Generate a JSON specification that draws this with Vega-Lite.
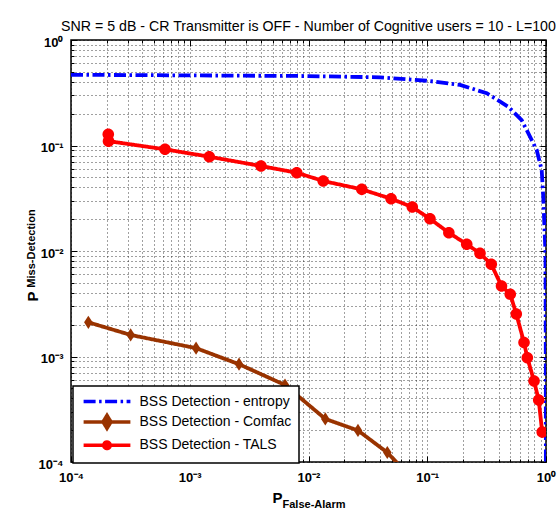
{
  "$schema": "https://vega.github.io/schema/vega-lite/v6.json",
  "width": 475,
  "height": 422,
  "autosize": {"type": "none"},
  "padding": {"left": 71, "top": 40, "right": 12, "bottom": 51},
  "background": "white",
  "title": {
    "text": "SNR = 5 dB - CR Transmitter is OFF - Number of Cognitive users = 10 - L=100",
    "font": "Liberation Sans",
    "fontSize": 14.2,
    "fontWeight": "normal",
    "color": "black",
    "anchor": "middle",
    "frame": "group",
    "baseline": "alphabetic",
    "offset": -9
  },
  "data": {
    "values": [
      {"s": "BSS Detection - entropy", "fa": 0.0001, "md": 0.468},
      {"s": "BSS Detection - entropy", "fa": 0.001, "md": 0.462},
      {"s": "BSS Detection - entropy", "fa": 0.0085, "md": 0.456},
      {"s": "BSS Detection - entropy", "fa": 0.04, "md": 0.443},
      {"s": "BSS Detection - entropy", "fa": 0.099, "md": 0.411},
      {"s": "BSS Detection - entropy", "fa": 0.189, "md": 0.375},
      {"s": "BSS Detection - entropy", "fa": 0.317, "md": 0.313},
      {"s": "BSS Detection - entropy", "fa": 0.481, "md": 0.233},
      {"s": "BSS Detection - entropy", "fa": 0.624, "md": 0.174},
      {"s": "BSS Detection - entropy", "fa": 0.688, "md": 0.14},
      {"s": "BSS Detection - entropy", "fa": 0.835, "md": 0.0906},
      {"s": "BSS Detection - entropy", "fa": 0.92, "md": 0.0586},
      {"s": "BSS Detection - entropy", "fa": 0.948, "md": 0.0327},
      {"s": "BSS Detection - entropy", "fa": 0.99, "md": 0.0096},
      {"s": "BSS Detection - entropy", "fa": 0.996, "md": 0.001},
      {"s": "BSS Detection - entropy", "fa": 0.9985, "md": 0.00005},
      {"s": "BSS Detection - Comfac", "fa": 0.00014, "md": 0.00211},
      {"s": "BSS Detection - Comfac", "fa": 0.000318, "md": 0.0016},
      {"s": "BSS Detection - Comfac", "fa": 0.00113, "md": 0.0012},
      {"s": "BSS Detection - Comfac", "fa": 0.0026, "md": 0.000845},
      {"s": "BSS Detection - Comfac", "fa": 0.00634, "md": 0.000537},
      {"s": "BSS Detection - Comfac", "fa": 0.01385, "md": 0.000256},
      {"s": "BSS Detection - Comfac", "fa": 0.0261, "md": 0.000199},
      {"s": "BSS Detection - Comfac", "fa": 0.0461, "md": 0.000123},
      {"s": "BSS Detection - Comfac", "fa": 0.079, "md": 0.000065},
      {"s": "BSS Detection - TALS", "fa": 0.000206, "md": 0.128},
      {"s": "BSS Detection - TALS", "fa": 0.000207, "md": 0.11},
      {"s": "BSS Detection - TALS", "fa": 0.000619, "md": 0.092},
      {"s": "BSS Detection - TALS", "fa": 0.00146, "md": 0.0783},
      {"s": "BSS Detection - TALS", "fa": 0.00398, "md": 0.0639},
      {"s": "BSS Detection - TALS", "fa": 0.00796, "md": 0.0552},
      {"s": "BSS Detection - TALS", "fa": 0.0133, "md": 0.0461},
      {"s": "BSS Detection - TALS", "fa": 0.0281, "md": 0.0384},
      {"s": "BSS Detection - TALS", "fa": 0.0496, "md": 0.0313},
      {"s": "BSS Detection - TALS", "fa": 0.0748, "md": 0.0261},
      {"s": "BSS Detection - TALS", "fa": 0.1054, "md": 0.0202},
      {"s": "BSS Detection - TALS", "fa": 0.152, "md": 0.0149},
      {"s": "BSS Detection - TALS", "fa": 0.215, "md": 0.0116},
      {"s": "BSS Detection - TALS", "fa": 0.278, "md": 0.0095},
      {"s": "BSS Detection - TALS", "fa": 0.346, "md": 0.00748},
      {"s": "BSS Detection - TALS", "fa": 0.422, "md": 0.00466},
      {"s": "BSS Detection - TALS", "fa": 0.5, "md": 0.00389},
      {"s": "BSS Detection - TALS", "fa": 0.562, "md": 0.00253},
      {"s": "BSS Detection - TALS", "fa": 0.653, "md": 0.00136},
      {"s": "BSS Detection - TALS", "fa": 0.696, "md": 0.000975},
      {"s": "BSS Detection - TALS", "fa": 0.793, "md": 0.000586},
      {"s": "BSS Detection - TALS", "fa": 0.868, "md": 0.000387},
      {"s": "BSS Detection - TALS", "fa": 0.929, "md": 0.000192}
    ]
  },
  "layer": [
    {
      "mark": {"type": "line", "clip": true, "strokeWidth": 3.8},
      "encoding": {
        "x": {
          "field": "fa", "type": "quantitative",
          "scale": {"type": "log", "domain": [0.0001, 1], "nice": false},
          "axis": {
            "orient": "bottom",
            "values": [0.0001,0.0002,0.0003,0.0004,0.0005,0.0006,0.0007,0.0008,0.0009,0.001,0.002,0.003,0.004,0.005,0.006,0.007,0.008,0.009,0.01,0.02,0.03,0.04,0.05,0.06,0.07,0.08,0.09,0.1,0.2,0.3,0.4,0.5,0.6,0.7,0.8,0.9,1],
            "labelExpr": "datum.value==0.0001?'10⁻⁴':datum.value==0.001?'10⁻³':datum.value==0.01?'10⁻²':datum.value==0.1?'10⁻¹':datum.value==1?'10⁰':''",
            "ticks": false,
            "grid": true,
            "labelPadding": 9,
            "labelBaseline": "top",
            "title": "P",
            "titleFont": "Liberation Sans",
            "titleFontSize": 15,
            "titleFontWeight": "bold",
            "titleX": 206,
            "titleY": 35,
            "titleAlign": "center",
            "titleBaseline": "middle"
          }
        },
        "y": {
          "field": "md", "type": "quantitative",
          "scale": {"type": "log", "domain": [0.0001, 1], "nice": false},
          "axis": {
            "orient": "left",
            "values": [0.0001,0.0002,0.0003,0.0004,0.0005,0.0006,0.0007,0.0008,0.0009,0.001,0.002,0.003,0.004,0.005,0.006,0.007,0.008,0.009,0.01,0.02,0.03,0.04,0.05,0.06,0.07,0.08,0.09,0.1,0.2,0.3,0.4,0.5,0.6,0.7,0.8,0.9,1],
            "labelExpr": "datum.value==0.0001?'10⁻⁴':datum.value==0.001?'10⁻³':datum.value==0.01?'10⁻²':datum.value==0.1?'10⁻¹':datum.value==1?'10⁰':''",
            "ticks": false,
            "grid": true,
            "labelPadding": 8,
            "labelOffset": 2,
            "title": "P",
            "titleFont": "Liberation Sans",
            "titleFontSize": 15,
            "titleFontWeight": "bold",
            "titleAngle": -90,
            "titleX": -39,
            "titleY": 256,
            "titleAlign": "center",
            "titleBaseline": "middle"
          }
        },
        "color": {
          "field": "s", "type": "nominal",
          "scale": {
            "domain": ["BSS Detection - entropy", "BSS Detection - Comfac", "BSS Detection - TALS"],
            "range": ["#0000ff", "#993300", "#ff0000"]
          },
          "legend": {
            "orient": "none",
            "legendX": 2,
            "legendY": 346,
            "title": null,
            "padding": 7,
            "rowPadding": -0.6,
            "fillColor": "white",
            "strokeColor": "black",
            "symbolSize": 169,
            "symbolStrokeWidth": 3.5,
            "symbolOffset": 18.5,
            "labelOffset": 24,
            "labelFont": "Liberation Sans",
            "labelFontSize": 14,
            "labelColor": "black",
            "encode": {
              "symbols": {
                "update": {
                  "shape": {"signal": "datum.value=='BSS Detection - entropy'?'M-3.6,0H3.6':datum.value=='BSS Detection - Comfac'?'M-3.6,0H3.6M0,-1L0.62,0L0,1L-0.62,0Z':'M-3.6,0H3.6M-0.5,0A0.5,0.5 0 1,0 0.5,0A0.5,0.5 0 1,0 -0.5,0Z'"},
                  "fill": {"signal": "datum.value=='BSS Detection - entropy'?'transparent':datum.value=='BSS Detection - Comfac'?'#993300':'#ff0000'"},
                  "strokeDash": {"signal": "datum.value=='BSS Detection - entropy'?[12,3.5,2.5,3.5]:[1,0]"}
                }
              }
            }
          }
        },
        "strokeDash": {
          "field": "s", "type": "nominal",
          "scale": {
            "domain": ["BSS Detection - entropy", "BSS Detection - Comfac", "BSS Detection - TALS"],
            "range": [[12, 3.5, 2.5, 3.5], [1, 0], [1, 0]]
          },
          "legend": null
        }
      }
    },
    {
      "transform": [{"filter": "datum.s != 'BSS Detection - entropy'"}],
      "mark": {"type": "point", "filled": true, "opacity": 1, "size": 121, "strokeWidth": 1.5, "clip": true},
      "encoding": {
        "x": {
          "field": "fa", "type": "quantitative",
          "scale": {"type": "log", "domain": [0.0001, 1], "nice": false},
          "axis": {
            "orient": "top",
            "values": [0.0001,0.0002,0.0003,0.0004,0.0005,0.0006,0.0007,0.0008,0.0009,0.001,0.002,0.003,0.004,0.005,0.006,0.007,0.008,0.009,0.01,0.02,0.03,0.04,0.05,0.06,0.07,0.08,0.09,0.1,0.2,0.3,0.4,0.5,0.6,0.7,0.8,0.9,1],
            "labels": false, "grid": false, "title": null,
            "tickSize": {"condition": {"test": "datum.value==0.0001||datum.value==0.001||datum.value==0.01||datum.value==0.1||datum.value==1", "value": -6}, "value": -3}
          }
        },
        "y": {
          "field": "md", "type": "quantitative",
          "scale": {"type": "log", "domain": [0.0001, 1], "nice": false},
          "axis": {
            "orient": "right",
            "values": [0.0001,0.0002,0.0003,0.0004,0.0005,0.0006,0.0007,0.0008,0.0009,0.001,0.002,0.003,0.004,0.005,0.006,0.007,0.008,0.009,0.01,0.02,0.03,0.04,0.05,0.06,0.07,0.08,0.09,0.1,0.2,0.3,0.4,0.5,0.6,0.7,0.8,0.9,1],
            "labels": false, "grid": false, "title": null,
            "tickSize": {"condition": {"test": "datum.value==0.0001||datum.value==0.001||datum.value==0.01||datum.value==0.1||datum.value==1", "value": -6}, "value": -3}
          }
        },
        "color": {
          "field": "s", "type": "nominal",
          "scale": {
            "domain": ["BSS Detection - entropy", "BSS Detection - Comfac", "BSS Detection - TALS"],
            "range": ["#0000ff", "#993300", "#ff0000"]
          },
          "legend": null
        },
        "shape": {
          "field": "s", "type": "nominal",
          "scale": {
            "domain": ["BSS Detection - Comfac", "BSS Detection - TALS"],
            "range": ["M0,-1.2L0.78,0L0,1.2L-0.78,0Z", "M-1.05,0A1.05,1.05 0 1,0 1.05,0A1.05,1.05 0 1,0 -1.05,0Z"]
          },
          "legend": null
        }
      }
    },
    {
      "transform": [{"filter": "false"}],
      "mark": {"type": "line"},
      "encoding": {
        "x": {
          "field": "fa", "type": "quantitative",
          "scale": {"type": "log", "domain": [0.0001, 1], "nice": false},
          "axis": {
            "orient": "bottom",
            "values": [0.0001,0.0002,0.0003,0.0004,0.0005,0.0006,0.0007,0.0008,0.0009,0.001,0.002,0.003,0.004,0.005,0.006,0.007,0.008,0.009,0.01,0.02,0.03,0.04,0.05,0.06,0.07,0.08,0.09,0.1,0.2,0.3,0.4,0.5,0.6,0.7,0.8,0.9,1],
            "labels": false, "grid": false,
            "tickSize": {"condition": {"test": "datum.value==0.0001||datum.value==0.001||datum.value==0.01||datum.value==0.1||datum.value==1", "value": -6}, "value": -3},
            "title": "False-Alarm",
            "titleFont": "Liberation Sans",
            "titleFontSize": 11,
            "titleFontWeight": "bold",
            "titleX": 211,
            "titleY": 42,
            "titleAlign": "left",
            "titleBaseline": "middle"
          }
        },
        "y": {
          "field": "md", "type": "quantitative",
          "scale": {"type": "log", "domain": [0.0001, 1], "nice": false},
          "axis": {
            "orient": "left",
            "values": [0.0001,0.0002,0.0003,0.0004,0.0005,0.0006,0.0007,0.0008,0.0009,0.001,0.002,0.003,0.004,0.005,0.006,0.007,0.008,0.009,0.01,0.02,0.03,0.04,0.05,0.06,0.07,0.08,0.09,0.1,0.2,0.3,0.4,0.5,0.6,0.7,0.8,0.9,1],
            "labels": false, "grid": false,
            "tickSize": {"condition": {"test": "datum.value==0.0001||datum.value==0.001||datum.value==0.01||datum.value==0.1||datum.value==1", "value": -6}, "value": -3},
            "title": "Miss-Detection",
            "titleFont": "Liberation Sans",
            "titleFontSize": 11,
            "titleFontWeight": "bold",
            "titleAngle": -90,
            "titleX": -40,
            "titleY": 208,
            "titleAlign": "center",
            "titleBaseline": "middle"
          }
        }
      }
    }
  ],
  "resolve": {
    "scale": {"x": "independent", "y": "independent"},
    "axis": {"x": "independent", "y": "independent"}
  },
  "config": {
    "view": {"stroke": "black", "strokeWidth": 1.5},
    "axis": {
      "labelFont": "Liberation Sans",
      "labelFontWeight": "bold",
      "labelFontSize": 13,
      "labelColor": "black",
      "titleColor": "black",
      "gridColor": "black",
      "gridDash": [1, 3],
      "gridOpacity": 0.75,
      "gridWidth": 1,
      "tickColor": "black",
      "tickWidth": 1,
      "domain": false,
      "labelFlush": false,
      "labelOverlap": false,
      "labelBound": false
    },
    "legend": {"strokeWidth": 1.5}
  }
}
